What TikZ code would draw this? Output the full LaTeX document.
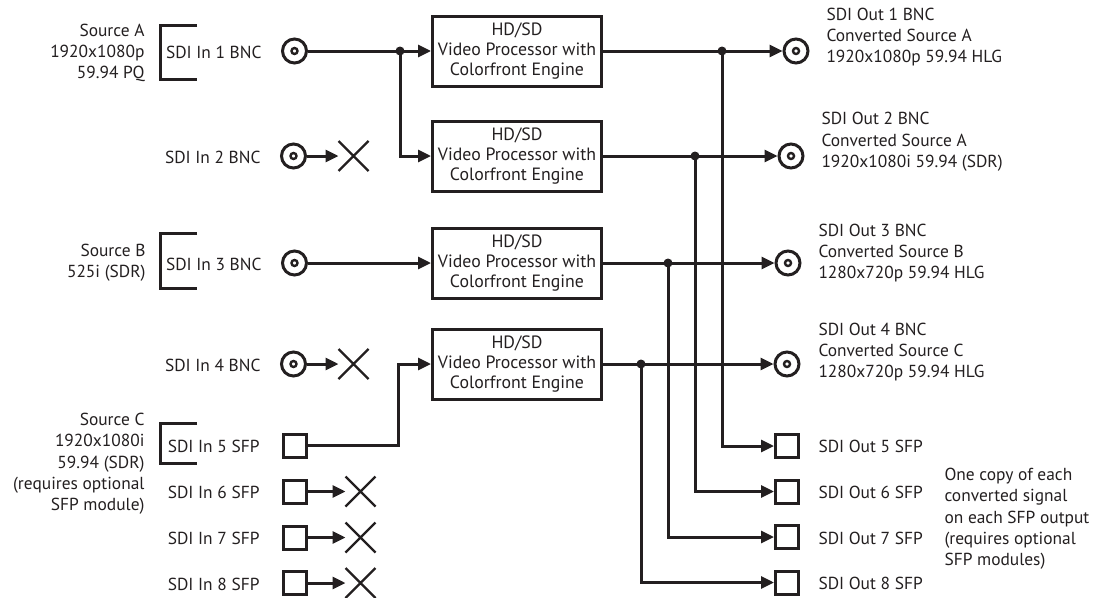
\documentclass[tikz,border=0pt]{standalone}
\usepackage{fontspec}
\setmainfont{PT Sans}
\usetikzlibrary{arrows.meta,shapes.misc}
\definecolor{ink}{HTML}{231F20}
\begin{document}
\begin{tikzpicture}[x=1pt,y=-1pt,line width=3pt,draw=ink,
  lbl/.style={font=\fontsize{17.4}{21.3}\selectfont,text=ink,inner sep=0pt},
  proc/.style={draw=ink,line width=3pt,minimum width=169pt,minimum height=70pt,inner sep=0pt,align=center,text=ink,font=\fontsize{17.8}{20.2}\selectfont},
  bnc/.style={circle,draw=ink,line width=3pt,minimum size=24pt,inner sep=0pt,
    path picture={\draw[line width=2.4pt,draw=ink] (path picture bounding box.center) circle (3pt);}},
  sfp/.style={rectangle,draw=ink,line width=3pt,minimum size=23pt,inner sep=0pt},
  xmark/.style={cross out,draw=ink,line width=2.2pt,minimum size=24pt,inner sep=0pt,outer sep=3pt},
  arr/.style={-{Triangle[length=13pt,width=12pt]}},
  jdot/.style={fill=ink},
  brk/.style={line width=3pt,line join=miter}
]
\useasboundingbox (0,0) rectangle (1115,597);

% processors
\node[proc] (p1) at (517,51) {HD/SD\\Video Processor with\\Colorfront Engine};
\node[proc] (p2) at (517,156) {HD/SD\\Video Processor with\\Colorfront Engine};
\node[proc] (p3) at (517,263) {HD/SD\\Video Processor with\\Colorfront Engine};
\node[proc] (p4) at (517,364) {HD/SD\\Video Processor with\\Colorfront Engine};

% inputs
\node[bnc] (in1) at (294.5,51) {};
\node[bnc] (in2) at (293.5,156) {};
\node[bnc] (in3) at (294.5,263) {};
\node[bnc] (in4) at (293.5,364) {};
\node[sfp] (in5) at (294.5,445.5) {};
\node[sfp] (in6) at (294.5,491.5) {};
\node[sfp] (in7) at (294.5,537.5) {};
\node[sfp] (in8) at (294.5,583) {};

\node[xmark] (x2) at (353.5,156) {};
\node[xmark] (x4) at (353.5,364) {};
\node[xmark] (x6) at (360.5,491.5) {};
\node[xmark] (x7) at (360.5,537.5) {};
\node[xmark] (x8) at (360.5,583) {};

% input labels
\node[lbl,anchor=east] (l1) at (263,52) {SDI In 1 BNC};
\node[lbl,anchor=east] (l2) at (262,157) {SDI In 2 BNC};
\node[lbl,anchor=east] (l3) at (263,264) {SDI In 3 BNC};
\node[lbl,anchor=east] (l4) at (262,365) {SDI In 4 BNC};
\node[lbl,anchor=east] (l5) at (261,446) {SDI In 5 SFP};
\node[lbl,anchor=east] (l6) at (261,492) {SDI In 6 SFP};
\node[lbl,anchor=east] (l7) at (261,538) {SDI In 7 SFP};
\node[lbl,anchor=east] (l8) at (261,584) {SDI In 8 SFP};

\node[lbl,anchor=east,align=right] (srcA) at (146,53) {Source A\\1920x1080p\\59.94 PQ};
\node[lbl,anchor=east,align=right] (srcB) at (147,262.5) {Source B\\525i (SDR)};
\node[lbl,anchor=east,align=right] (srcC) at (146,464) {Source C\\1920x1080i\\59.94 (SDR)\\(requires optional\\SFP module)};

\draw[brk] (197,25) -- (160,25) -- (160,79) -- (197,79);
\draw[brk] (197,233) -- (160,233) -- (160,288) -- (197,288);
\draw[brk] (197,423) -- (160,423) -- (160,463) -- (197,463);

% input connections
\coordinate (j1) at (400,51);
\draw (in1) -- (j1);
\draw[arr] (j1) -- (p1);
\draw[arr] (j1) |- (p2);
\fill[jdot] (j1) circle (4.5pt);
\draw[arr] (in2) -- (x2);
\draw[arr] (in3) -- (p3);
\draw[arr] (in4) -- (x4);
\coordinate (k5) at (398,445.5);
\draw[arr,line join=miter] (in5) -- (k5) |- (p4);
\draw[arr] (in6) -- (x6);
\draw[arr] (in7) -- (x7);
\draw[arr] (in8) -- (x8);

% outputs
\node[bnc] (o1) at (796,51) {};
\node[bnc] (o2) at (791,156) {};
\node[bnc] (o3) at (788,263) {};
\node[bnc] (o4) at (787,364) {};
\node[sfp] (s5) at (787,446) {};
\node[sfp] (s6) at (787,491.5) {};
\node[sfp] (s7) at (787,537) {};
\node[sfp] (s8) at (787,582.5) {};

\coordinate (jo1) at (722,51);
\coordinate (jo2) at (695,156);
\coordinate (jo3) at (668,263);
\coordinate (jo4) at (641,364);

\draw (p1) -- (jo1);
\draw (p2) -- (jo2);
\draw (p3) -- (jo3);
\draw (p4) -- (jo4);
\draw[arr] (jo1) -- (o1);
\draw[arr] (jo2) -- (o2);
\draw[arr] (jo3) -- (o3);
\draw[arr] (jo4) -- (o4);
\draw[arr,line join=miter] (jo1) |- (s5);
\draw[arr,line join=miter] (jo2) |- (s6);
\draw[arr,line join=miter] (jo3) |- (s7);
\draw[arr,line join=miter] (jo4) |- (s8);
\fill[jdot] (jo1) circle (4.5pt);
\fill[jdot] (jo2) circle (4.5pt);
\fill[jdot] (jo3) circle (4.5pt);
\fill[jdot] (jo4) circle (4.5pt);

% output labels
\node[lbl,anchor=west,align=left] (ol1) at (825,37) {SDI Out 1 BNC\\Converted Source A\\1920x1080p 59.94 HLG};
\node[lbl,anchor=west,align=left] (ol2) at (820,142) {SDI Out 2 BNC\\Converted Source A\\1920x1080i 59.94 (SDR)};
\node[lbl,anchor=west,align=left] (ol3) at (817,253) {SDI Out 3 BNC\\Converted Source B\\1280x720p 59.94 HLG};
\node[lbl,anchor=west,align=left] (ol4) at (817,352) {SDI Out 4 BNC\\Converted Source C\\1280x720p 59.94 HLG};
\node[lbl,anchor=west] (ol5) at (817,446) {SDI Out 5 SFP};
\node[lbl,anchor=west] (ol6) at (817,492) {SDI Out 6 SFP};
\node[lbl,anchor=west] (ol7) at (817,538) {SDI Out 7 SFP};
\node[lbl,anchor=west] (ol8) at (817,583) {SDI Out 8 SFP};
\node[lbl,anchor=west,align=left] (note) at (943,519) {One copy of each\\converted signal\\on each SFP output\\(requires optional\\SFP modules)};
\end{tikzpicture}
\end{document}
